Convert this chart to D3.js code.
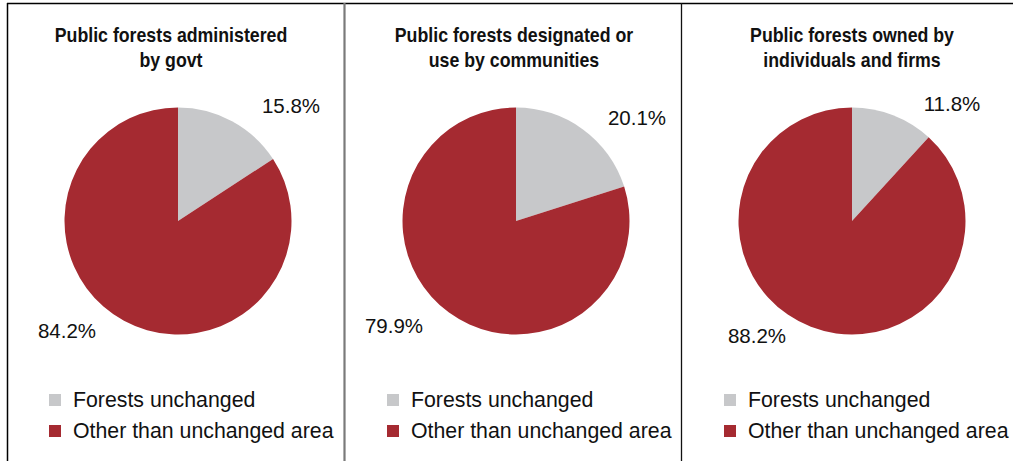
<!DOCTYPE html>
<html><head><meta charset="utf-8">
<script src="https://cdn.jsdelivr.net/npm/d3@7"></script>
<style>body{margin:0;background:#fff}</style>
</head><body>
<svg id="c" width="1013" height="461"></svg>
<script>
const titles = [["Public forests administered","by govt"],["Public forests designated or","use by communities"],["Public forests owned by","individuals and firms"]];
const categories = ["Forests unchanged","Other than unchanged area"];
const unchanged = [15.8, 20.1, 11.8];
const other = [84.2, 79.9, 88.2];
const colors = ["#C7C8CA","#A52A31"];

const svg = d3.select("#c");
// borders
svg.append("line").attr("x1",7).attr("x2",1013).attr("y1",3.5).attr("y2",3.5).attr("stroke","#000").attr("stroke-width",1.5);
svg.append("line").attr("x1",7.5).attr("x2",7.5).attr("y1",3).attr("y2",461).attr("stroke","#000").attr("stroke-width",1.5);
svg.append("line").attr("x1",344.5).attr("x2",344.5).attr("y1",3).attr("y2",461).attr("stroke","#7a7a7a").attr("stroke-width",2.2);
svg.append("line").attr("x1",681.5).attr("x2",681.5).attr("y1",3).attr("y2",461).attr("stroke","#111").attr("stroke-width",1.3);

const centers = [[178,221],[516,221],[852,221]];
const R = 113.5;
const pie = d3.pie().sort(null).value(d=>d);
const arc = d3.arc().innerRadius(0).outerRadius(R);
const labelPos = [[[291,105],[67,330]],[[637,117],[394,325]],[[952,103],[757,335]]];
const titleX = [171,514,852];
const legendX = [49,387,724];

for (let i=0;i<3;i++){
  const g = svg.append("g").attr("transform",`translate(${centers[i][0]},${centers[i][1]})`);
  const data = pie([unchanged[i], other[i]]);
  g.selectAll("path").data(data).join("path").attr("d",arc).attr("fill",(d,j)=>colors[j]);
  const vals=[unchanged[i],other[i]];
  vals.forEach((v,j)=>{
    svg.append("text").attr("x",labelPos[i][j][0]).attr("y",labelPos[i][j][1]).attr("text-anchor","middle")
      .attr("dominant-baseline","central").attr("font-family","Liberation Sans, Arial, sans-serif").attr("font-size",20.5)
      .attr("fill","#111").text(v.toFixed(1)+"%");
  });
  titles[i].forEach((t,k)=>{
    svg.append("text").attr("transform",`translate(${titleX[i]},${42+k*25}) scale(0.91,1)`).attr("text-anchor","middle")
      .attr("font-family","Liberation Sans, Arial, sans-serif").attr("font-weight","bold")
      .attr("font-size",19.5).attr("fill","#111").text(t);
  });
  categories.forEach((c,k)=>{
    svg.append("rect").attr("x",legendX[i]).attr("y",394+k*31).attr("width",12).attr("height",12).attr("fill",colors[k]);
    svg.append("text").attr("x",legendX[i]+24).attr("y",400+k*31).attr("dominant-baseline","central")
      .attr("font-family","Liberation Sans, Arial, sans-serif").attr("font-size",21.3).attr("fill","#111").text(c);
  });
}
</script>
</body></html>
